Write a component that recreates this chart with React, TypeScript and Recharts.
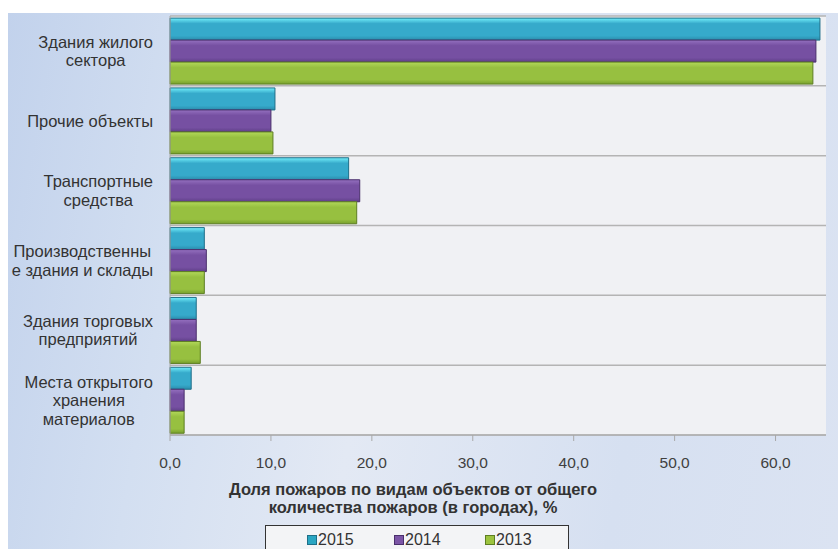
import React from "react";
import { BarChart, Bar, XAxis, YAxis, CartesianGrid } from "recharts";

const categories = [
  "Здания жилого сектора",
  "Прочие объекты",
  "Транспортные средства",
  "Производственные здания и склады",
  "Здания торговых предприятий",
  "Места открытого хранения материалов",
];

// how the labels wrap in the original
const categoryLines = [
  ["Здания жилого", "сектора"],
  ["Прочие объекты"],
  ["Транспортные", "средства"],
  ["Производственны", "е здания и склады"],
  ["Здания торговых", "предприятий"],
  ["Места открытого", "хранения", "материалов"],
];

const years = ["2015", "2014", "2013"];
const values2015 = [64.4, 10.4, 17.7, 3.4, 2.6, 2.1];
const values2014 = [64.0, 10.0, 18.8, 3.6, 2.6, 1.4];
const values2013 = [63.7, 10.2, 18.5, 3.4, 3.0, 1.4];
const xTicks = [0, 10, 20, 30, 40, 50, 60];

const axisTitle = [
  "Доля пожаров по видам объектов от общего",
  "количества пожаров (в городах), %",
];

const seriesColors: Record<string, { top: string; mid: string; bottom: string; edge: string; key: string }> = {
  "2015": { top: "#72eefa", mid: "#36aacb", bottom: "#2b8cab", edge: "#1f6f88", key: "#2aa6c2" },
  "2014": { top: "#9470bf", mid: "#7650a2", bottom: "#5f3f88", edge: "#4a2f6c", key: "#7b55a6" },
  "2013": { top: "#b2d85a", mid: "#97c040", bottom: "#77a02c", edge: "#5d7e22", key: "#9cc33f" },
};

const data = categories.map((name, i) => ({
  name,
  y2015: values2015[i],
  y2014: values2014[i],
  y2013: values2013[i],
}));

const FONT = "'Liberation Sans', Arial, sans-serif";
const LABEL_FONT_SIZE = 16.5;

let measureCtx: CanvasRenderingContext2D | null = null;
function textWidth(s: string) {
  if (!measureCtx) {
    measureCtx = document.createElement("canvas").getContext("2d");
  }
  if (!measureCtx) return s.length * 9;
  measureCtx.font = `${LABEL_FONT_SIZE}px 'Liberation Sans'`;
  return measureCtx.measureText(s).width;
}

// Excel style: the block is right aligned, lines are centred inside it
function CategoryTick(props: any) {
  const { y, payload } = props;
  const idx = categories.indexOf(payload.value);
  const lines = categoryLines[idx] || [payload.value];
  const lh = 18.5;
  const right = 153;
  const blockW = Math.max(...lines.map(textWidth));
  const cx = right - blockW / 2;
  const start = y - ((lines.length - 1) * lh) / 2;
  return (
    <text x={cx} y={start} textAnchor="middle" fontFamily={FONT} fontSize={LABEL_FONT_SIZE} fill="#333">
      {lines.map((l, i) => (
        <tspan key={i} x={cx} y={start + i * lh} dy="0.36em">
          {l}
        </tspan>
      ))}
    </text>
  );
}

export default function App() {
  const W = 838;
  const H = 549;
  return (
    <div style={{ position: "absolute", left: 0, top: 0, width: W, height: H, background: "#fff", overflow: "hidden" }}>
      <div
        style={{
          position: "absolute",
          left: 8,
          top: 13,
          width: W - 8,
          height: H - 13,
          background: "linear-gradient(100deg, #c2d2ec 0%, #d3dff1 22%, #e3e9f4 45%, #d6e0f1 75%, #dbe3f2 100%)",
        }}
      />
      <div style={{ position: "absolute", left: 0, top: 0 }}>
        <BarChart
          width={W}
          height={H}
          data={data}
          layout="vertical"
          margin={{ top: 16, right: 12, bottom: 84, left: 0 }}
          barCategoryGap="3%"
          barGap={0}
        >
          <defs>
            {years.map((yr) => (
              <linearGradient key={yr} id={`g${yr}`} x1="0" y1="0" x2="0" y2="1">
                <stop offset="0%" stopColor={seriesColors[yr].top} />
                <stop offset="25%" stopColor={seriesColors[yr].mid} />
                <stop offset="80%" stopColor={seriesColors[yr].mid} />
                <stop offset="100%" stopColor={seriesColors[yr].bottom} />
              </linearGradient>
            ))}
          </defs>
          <CartesianGrid
            vertical={false}
            fill="#f0f1f4"
            stroke="#b4b4b4"
            strokeWidth={1.5}
            horizontalCoordinatesGenerator={({ offset }: any) =>
              Array.from({ length: categories.length + 1 }, (_, i) => offset.top + (i * offset.height) / categories.length)
            }
          />
          <XAxis
            type="number"
            domain={[0, 65]}
            ticks={xTicks}
            tickFormatter={(v: number) => v.toFixed(1).replace(".", ",")}
            tick={{ fontSize: 15.5, fontFamily: FONT, fill: "#404040" }}
            stroke="#a8a8a8"
            tickSize={6}
            tickMargin={16}
            height={30}
          />
          <YAxis
            type="category"
            dataKey="name"
            width={170}
            tick={<CategoryTick />}
            stroke="#a8a8a8"
            tickLine={false}
          />
          {years.map((yr) => (
            <Bar
              key={yr}
              dataKey={`y${yr}`}
              name={yr}
              fill={`url(#g${yr})`}
              stroke={seriesColors[yr].edge}
              strokeWidth={1}
              isAnimationActive={false}
            />
          ))}
        </BarChart>
      </div>
      <div
        style={{
          position: "absolute",
          left: 170,
          width: 486,
          top: 480,
          textAlign: "center",
          fontFamily: FONT,
          fontSize: 16.5,
          fontWeight: "bold",
          color: "#333",
          lineHeight: "18px",
        }}
      >
        {axisTitle.map((t, i) => (
          <div key={i}>{t}</div>
        ))}
      </div>
      <div
        style={{
          position: "absolute",
          left: 265,
          top: 525,
          width: 304,
          height: 40,
          border: "1px solid #333",
          background: "#f3f4f6",
          boxSizing: "border-box",
          fontFamily: FONT,
          fontSize: 16,
          color: "#333",
        }}
      >
        {years.map((yr, i) => (
          <div
            key={yr}
            style={{ position: "absolute", left: [41, 128, 219][i], top: 5, display: "flex", alignItems: "center" }}
          >
            <span
              style={{
                display: "inline-block",
                width: 8,
                height: 8,
                background: seriesColors[yr].key,
                border: `1px solid ${seriesColors[yr].edge}`,
                marginRight: 1,
              }}
            />
            <span>{yr}</span>
          </div>
        ))}
      </div>
    </div>
  );
}
